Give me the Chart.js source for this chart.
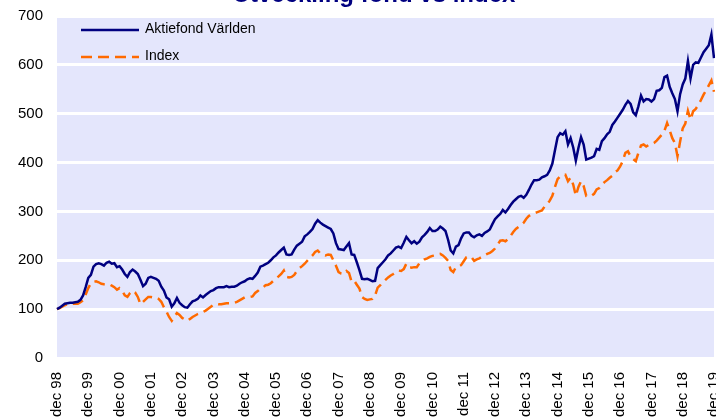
<!DOCTYPE html>
<html>
<head>
<meta charset="utf-8">
<script src="https://cdn.jsdelivr.net/npm/chart.js@4/dist/chart.umd.min.js"></script>
<style>
  html, body { margin: 0; padding: 0; background: #fff; overflow: hidden; }
  #wrap { position: absolute; left: 0; top: -7px; width: 738px; height: 426px; }
</style>
</head>
<body>
<div id="wrap"><canvas id="chart"></canvas></div>
<script>
// Tick labels (one per December)
const tickLabels = ["dec 98", "dec 99", "dec 00", "dec 01", "dec 02", "dec 03", "dec 04",
  "dec 05", "dec 06", "dec 07", "dec 08", "dec 09", "dec 10", "dec 11", "dec 12", "dec 13",
  "dec 14", "dec 15", "dec 16", "dec 17", "dec 18", "dec 19"];

const yTicks = [0, 100, 200, 300, 400, 500, 600, 700];

// Monthly values, dec 98 = 100
const fund = [
  100,
  103, 107, 111, 112, 113, 113, 114, 115, 119, 128, 145, 164,
  170, 187, 192, 194, 192, 189, 195, 197, 193, 194, 186, 188,
  181, 172, 166, 176, 181, 177, 172, 160, 147, 152, 164, 166,
  164, 162, 158, 146, 138, 124, 120, 105, 112, 123, 113, 108,
  104, 103, 110, 116, 118, 121, 128, 124, 129, 133, 137, 139,
  143, 145, 145, 145, 147, 145, 146, 146, 148, 152, 155, 157,
  161, 163, 162, 168, 175, 187, 189, 192, 195, 200, 206, 210,
  216, 221, 226, 212, 211, 212, 222, 230, 234, 238, 249, 253,
  258, 264, 275, 282, 277, 273, 270, 267, 264, 255, 235, 223,
  222, 221, 228, 235, 212, 211, 196, 180, 162, 161, 162, 160,
  157, 158, 184, 190, 196, 202, 210, 214, 220, 226, 228, 225,
  236, 248, 241, 235, 239, 234, 238, 247, 252, 258, 266, 260,
  260, 263, 269, 265, 260, 242, 220, 214, 228, 231, 245, 255,
  257, 257, 250, 247, 251, 253, 250, 256, 259, 263, 274, 284,
  290, 295, 303, 298, 305, 313, 320, 325, 330, 332, 328, 334,
  344, 355, 364, 364, 365, 370, 372, 375, 384, 398, 425, 452,
  460, 457, 464, 437, 450, 431, 404, 430, 452, 437, 406, 408,
  410, 413, 428, 426, 444, 450, 458, 463, 477, 484, 492, 500,
  508, 518, 526, 520, 503, 497, 515, 537, 525, 530, 529, 525,
  530, 547, 548, 553, 575, 578, 555, 542, 530, 505, 540, 560,
  572, 608, 572, 600, 605, 604, 615, 626, 633, 640, 662, 614
];

const index = [
  100,
  102, 105, 108, 110, 111, 111, 111, 111, 114, 118, 130, 143,
  153, 156, 157, 155, 152, 151, 151, 151, 148, 145, 140, 143,
  138, 128, 125, 133, 138, 134, 125, 110, 115, 120, 125, 125,
  124, 124, 121, 115, 104, 95, 84, 76, 84, 92, 88, 82,
  79, 76, 80, 84, 87, 90, 92, 94, 97, 101, 105, 109,
  111, 110, 110, 111, 112, 112, 113, 113, 115, 118, 121, 124,
  125, 125, 126, 133, 137, 142, 144, 149, 150, 153, 158, 163,
  167, 172, 179, 166, 165, 166, 170, 178, 184, 188, 193, 199,
  205, 210, 217, 220, 214, 212, 210, 212, 211, 200, 189, 176,
  173, 172, 178, 174, 156, 158, 150, 142, 125, 121, 119, 120,
  121, 128, 144, 149, 155, 160, 165, 169, 172, 176, 179, 178,
  182, 193, 186, 185, 186, 186, 194, 198, 202, 204, 207, 209,
  210, 212, 213, 210, 205, 199, 180, 176, 186, 187, 190, 198,
  206, 208, 206, 199, 202, 204, 207, 210, 213, 215, 219, 224,
  232, 240, 241, 239, 243, 250, 258, 264, 268, 272, 277, 285,
  291, 293, 296, 298, 300, 302, 310, 315, 322, 332, 350, 366,
  372, 373, 375, 362, 369, 355, 332, 350, 362, 352, 332, 333,
  332, 336, 345, 348, 355, 360, 364, 369, 373, 380, 384, 392,
  403, 420, 423, 413, 407, 403, 420, 435, 437, 433, 436, 437,
  440, 445, 451, 457, 465, 481, 466, 450, 440, 413, 443, 470,
  480, 506, 488, 505, 510, 518, 528, 539, 548, 558, 568, 545
];

const seriesNames = ["Aktiefond Världen", "Index"];
const titleText = "Utveckling fond vs index";

const labels = fund.map((v, i) => (i % 12 === 0 ? tickLabels[i / 12] : ""));

// Plot background, title (cut off at top) and legend inside the plot
const decor = {
  id: "decor",
  beforeDraw(chart) {
    const { ctx, chartArea: a } = chart;
    ctx.save();
    ctx.fillStyle = "#e4e6fc";
    ctx.fillRect(a.left, a.top, a.right - a.left, a.bottom - a.top);
    ctx.restore();
  },
  afterDraw(chart) {
    const { ctx } = chart;
    ctx.save();
    ctx.fillStyle = "#000080";
    ctx.font = "bold 24px 'Liberation Sans', Arial, sans-serif";
    ctx.textAlign = "center";
    ctx.textBaseline = "alphabetic";
    ctx.fillText(titleText, 374, 9);

    const rows = [37, 64];
    chart.data.datasets.forEach((ds, i) => {
      ctx.strokeStyle = ds.borderColor;
      ctx.lineWidth = ds.borderWidth;
      ctx.setLineDash(ds.borderDash || []);
      ctx.beginPath();
      ctx.moveTo(81, rows[i]);
      ctx.lineTo(139, rows[i]);
      ctx.stroke();
      ctx.setLineDash([]);
      ctx.fillStyle = "#000";
      ctx.font = "14px 'Liberation Sans', Arial, sans-serif";
      ctx.textAlign = "left";
      ctx.textBaseline = "middle";
      ctx.fillText(ds.label, 145, rows[i] - 1);
    });
    ctx.restore();
  }
};

new Chart(document.getElementById("chart"), {
  type: "line",
  data: {
    labels,
    datasets: [
      {
        label: seriesNames[0],
        data: fund,
        borderColor: "#000080",
        borderWidth: 2.5,
        pointRadius: 0,
        tension: 0
      },
      {
        label: seriesNames[1],
        data: index,
        borderColor: "#ff6a00",
        borderWidth: 2.5,
        borderDash: [11, 6],
        pointRadius: 0,
        tension: 0
      }
    ]
  },
  options: {
    responsive: true,
    maintainAspectRatio: false,
    animation: false,
    layout: { padding: { top: 6, left: 0, right: 0, bottom: 0 } },
    plugins: {
      legend: { display: false },
      title: { display: false },
      tooltip: { enabled: false }
    },
    scales: {
      x: {
        type: "category",
        offset: false,
        grid: { display: false },
        border: { display: false },
        ticks: {
          autoSkip: false,
          minRotation: 90,
          maxRotation: 90,
          padding: 6,
          color: "#000",
          font: { family: "'Liberation Sans', Arial, sans-serif", size: 15 },
          callback: (v, i) => labels[i]
        },
        afterFit: s => { s.height = 61; }
      },
      y: {
        min: yTicks[0],
        max: yTicks[yTicks.length - 1],
        afterBuildTicks: s => { s.ticks = yTicks.map(v => ({ value: v })); },
        grid: { color: "#ffffff", lineWidth: 3, drawTicks: false },
        border: { display: false },
        ticks: {
          padding: 14,
          color: "#000",
          font: { family: "'Liberation Sans', Arial, sans-serif", size: 15 }
        },
        afterFit: s => { s.width = 57; }
      }
    }
  },
  plugins: [decor]
});
</script>
</body>
</html>
